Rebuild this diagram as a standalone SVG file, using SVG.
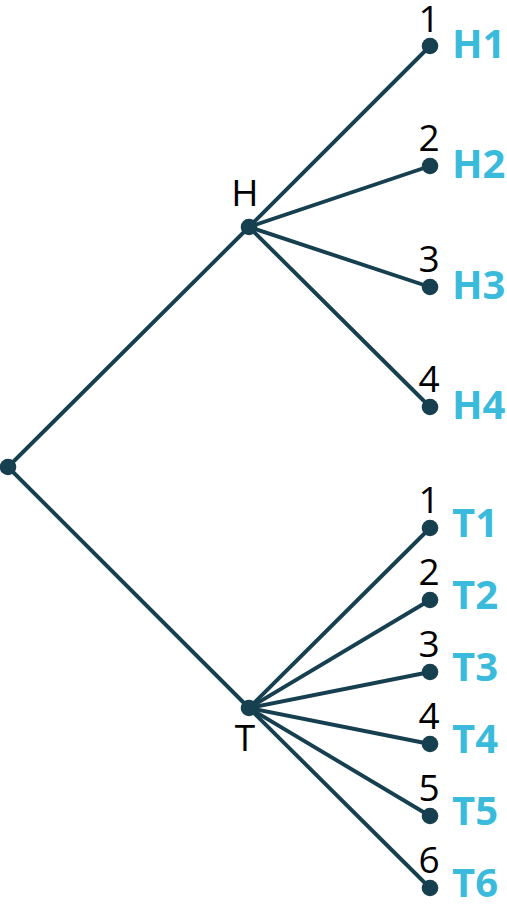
<svg xmlns="http://www.w3.org/2000/svg" width="507" height="923" viewBox="0 0 507 923">
<style>
.e{stroke:#163f4f;stroke-width:3.9;fill:none;stroke-linecap:round}
.d{fill:#163f4f}
.n{font-family:"Open Sans","Noto Sans",sans-serif;font-size:37px;fill:#000;text-anchor:middle}
.l{font-family:"Open Sans","Noto Sans",sans-serif;font-size:40px;font-weight:bold;fill:#3bbbdb}
</style>
<rect width="507" height="923" fill="#fff"/>
<g id="connectors">
<line class="e" x1="8" y1="467" x2="249" y2="227"/>
<line class="e" x1="8" y1="467" x2="249" y2="708"/>
<line class="e" x1="249" y1="227" x2="430" y2="46"/>
<line class="e" x1="249" y1="227" x2="430" y2="166"/>
<line class="e" x1="249" y1="227" x2="430" y2="287"/>
<line class="e" x1="249" y1="227" x2="430" y2="407"/>
<line class="e" x1="249" y1="708" x2="430" y2="528"/>
<line class="e" x1="249" y1="708" x2="430" y2="600"/>
<line class="e" x1="249" y1="708" x2="430" y2="672"/>
<line class="e" x1="249" y1="708" x2="430" y2="744"/>
<line class="e" x1="249" y1="708" x2="430" y2="816"/>
<line class="e" x1="249" y1="708" x2="430" y2="888"/>
</g>
<g id="root"><circle class="d" cx="8" cy="467" r="8.3"/></g>
<g id="H"><circle class="d" cx="249" cy="227" r="8.3"/><text class="n" x="245" y="206">H</text></g>
<g id="T"><circle class="d" cx="249" cy="708" r="8.3"/><text class="n" x="245" y="751">T</text></g>
<g id="H1"><circle class="d" cx="430" cy="46" r="8.3"/><text class="n" x="429" y="32">1</text><text class="l" x="452" y="58">H1</text></g>
<g id="H2"><circle class="d" cx="430" cy="166" r="8.3"/><text class="n" x="429" y="151">2</text><text class="l" x="452" y="178">H2</text></g>
<g id="H3"><circle class="d" cx="430" cy="287" r="8.3"/><text class="n" x="429" y="272">3</text><text class="l" x="452" y="299">H3</text></g>
<g id="H4"><circle class="d" cx="430" cy="407" r="8.3"/><text class="n" x="429" y="392">4</text><text class="l" x="452" y="419">H4</text></g>
<g id="T1"><circle class="d" cx="430" cy="528" r="8.3"/><text class="n" x="429" y="513">1</text><text class="l" x="452" y="537">T1</text></g>
<g id="T2"><circle class="d" cx="430" cy="600" r="8.3"/><text class="n" x="429" y="585">2</text><text class="l" x="452" y="609">T2</text></g>
<g id="T3"><circle class="d" cx="430" cy="672" r="8.3"/><text class="n" x="429" y="657">3</text><text class="l" x="452" y="681">T3</text></g>
<g id="T4"><circle class="d" cx="430" cy="744" r="8.3"/><text class="n" x="429" y="729">4</text><text class="l" x="452" y="753">T4</text></g>
<g id="T5"><circle class="d" cx="430" cy="816" r="8.3"/><text class="n" x="429" y="801">5</text><text class="l" x="452" y="825">T5</text></g>
<g id="T6"><circle class="d" cx="430" cy="888" r="8.3"/><text class="n" x="429" y="873">6</text><text class="l" x="452" y="897">T6</text></g>
</svg>
